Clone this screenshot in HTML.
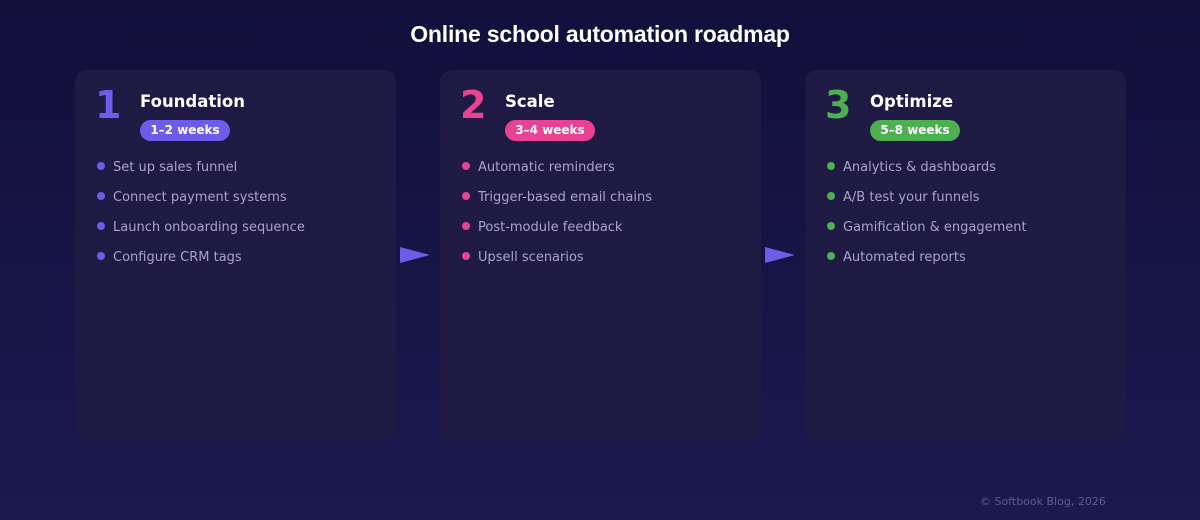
<!DOCTYPE html>
<html><head><style>
body{margin:0;width:1200px;height:520px;overflow:hidden;background:linear-gradient(#120f3b,#1b1950);font-family:"DejaVu Sans",sans-serif;position:relative}
.t{position:absolute;top:21px;left:0;width:1200px;text-align:center;color:#fff;font:bold 23px "Liberation Sans",sans-serif;letter-spacing:-0.2px}
.c{position:absolute;top:70px;width:321px;height:372px;background:#1f1a43;border-radius:12px}
.n{position:absolute;left:20px;top:13px;font-size:38px;font-weight:bold}
.h{position:absolute;left:65px;top:22px;color:#fff;font-size:16.5px;font-weight:bold}
.p{position:absolute;left:65px;top:50px;height:21px;width:90px;border-radius:11px;color:#fff;font-size:12px;font-weight:bold;text-align:center;line-height:21px}
.l{position:absolute;left:22px;font-size:13px;color:#a9a3c8;line-height:16px}
.l i{display:inline-block;width:8px;height:8px;border-radius:50%;margin-right:8px;vertical-align:1px}
.a{position:absolute;top:247px;width:0;height:0;border-top:8px solid transparent;border-bottom:8px solid transparent;border-left:30px solid #6c5ce7}
.f{position:absolute;left:980px;top:495px;font-size:11px;color:#5e5a8a}
</style></head><body>
<div class="t">Online school automation roadmap</div>

<div class="c" style="left:75px">
<div class="n" style="color:#6c5ce7">1</div><div class="h">Foundation</div>
<div class="p" style="background:#6c5ce7">1–2 weeks</div>
<div class="l" style="top:90px"><i style="background:#6c5ce7"></i>Set up sales funnel</div>
<div class="l" style="top:120px"><i style="background:#6c5ce7"></i>Connect payment systems</div>
<div class="l" style="top:150px"><i style="background:#6c5ce7"></i>Launch onboarding sequence</div>
<div class="l" style="top:180px"><i style="background:#6c5ce7"></i>Configure CRM tags</div>
</div>

<div class="c" style="left:440px">
<div class="n" style="color:#e84393">2</div><div class="h">Scale</div>
<div class="p" style="background:#e84393">3–4 weeks</div>
<div class="l" style="top:90px"><i style="background:#e84393"></i>Automatic reminders</div>
<div class="l" style="top:120px"><i style="background:#e84393"></i>Trigger-based email chains</div>
<div class="l" style="top:150px"><i style="background:#e84393"></i>Post-module feedback</div>
<div class="l" style="top:180px"><i style="background:#e84393"></i>Upsell scenarios</div>
</div>

<div class="c" style="left:805px">
<div class="n" style="color:#4caf50">3</div><div class="h">Optimize</div>
<div class="p" style="background:#4caf50">5–8 weeks</div>
<div class="l" style="top:90px"><i style="background:#4caf50"></i>Analytics &amp; dashboards</div>
<div class="l" style="top:120px"><i style="background:#4caf50"></i>A/B test your funnels</div>
<div class="l" style="top:150px"><i style="background:#4caf50"></i>Gamification &amp; engagement</div>
<div class="l" style="top:180px"><i style="background:#4caf50"></i>Automated reports</div>
</div>

<div class="a" style="left:400px"></div>
<div class="a" style="left:765px"></div>
<div class="f">© Softbook Blog, 2026</div>
</body></html>
